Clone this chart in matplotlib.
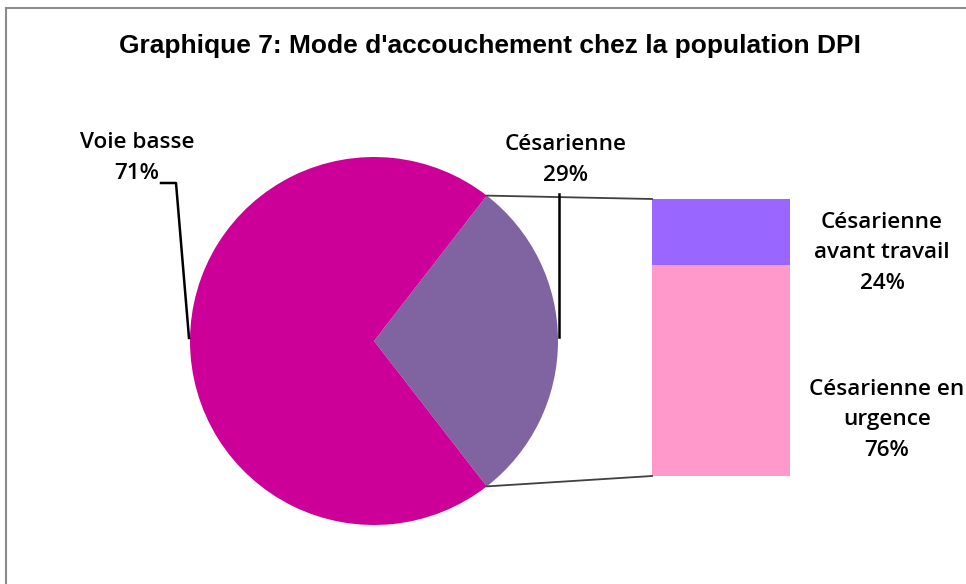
import numpy as np
import matplotlib
matplotlib.use('Agg')
from matplotlib import pyplot as plt
from matplotlib.lines import Line2D

# data
title = "Graphique 7: Mode d'accouchement chez la population DPI"
pie_labels = ['Césarienne', 'Voie basse']
pie_values = [29, 71]
pie_colors = ['#8064A2', '#CC0099']
bar_labels = ['Césarienne en\nurgence', 'Césarienne\navant travail']
bar_values = [76, 24]
bar_colors = ['#FF99CC', '#9966FF']

W, H = 966, 584
fig = plt.figure(figsize=(W / 100, H / 100), dpi=100)
ax = fig.add_axes([0, 0, 1, 1])


def py(y):
    # pixel row -> data y
    return H - y


# pie, split wedge centred on the right
cx, cy, r = 374, py(341), 184
half = pie_values[0] / sum(pie_values) * 360 / 2
ax.pie(pie_values, colors=pie_colors, startangle=-half, counterclock=True,
       center=(cx, cy), radius=r, frame=True,
       wedgeprops=dict(linewidth=0))
ax.set_xlim(0, W)
ax.set_ylim(0, H)
ax.set_aspect('auto')
ax.axis('off')

# stacked bar of the split wedge
bx, bw = 652, 138
btop, bbot = py(199), py(476)
total_h = btop - bbot
bottom = bbot
for v, c in zip(bar_values, bar_colors):
    h = total_h * v / sum(bar_values)
    ax.bar(bx + bw / 2, h, width=bw, bottom=bottom, color=c, linewidth=0)
    bottom += h

# connector lines
a = np.radians(half)
top_pt = (cx + r * np.cos(a), cy + r * np.sin(a))
bot_pt = (cx + r * np.cos(a), cy - r * np.sin(a))
ax.plot([top_pt[0], bx], [top_pt[1], btop], color='#404040', lw=1.3)
ax.plot([bot_pt[0], bx], [bot_pt[1], bbot], color='#404040', lw=1.3)

# leader lines
ax.plot([161, 176, 189], [py(183), py(183), py(338)], color='black', lw=1.8)
ax.plot([559, 559], [py(337), py(194)], color='black', lw=1.8)

lab = dict(family=['Open Sans', 'DejaVu Sans'], fontweight='semibold', fontsize=16.2,
           ha='center', va='center', color='black', linespacing=1.6)
ax.text(137, py(158), f'{pie_labels[1]}\n{pie_values[1]}%', **lab)
ax.text(566, py(160), f'{pie_labels[0]}\n{pie_values[0]}%', **lab)
ax.text(882, py(253), f'{bar_labels[1]}\n{bar_values[1]}%', **lab)
ax.text(887, py(420), f'{bar_labels[0]}\n{bar_values[0]}%', **lab)

ax.text(490, py(46), title, ha='center', va='center', fontsize=19,
        fontweight='bold', family=['Liberation Sans'])

# chart border (only top and left visible)
fig.add_artist(Line2D([5.5 / W, 5.5 / W], [0, 1 - 8 / H], color='#8c8c8c', lw=1.5))
fig.add_artist(Line2D([5.5 / W, 1], [1 - 8 / H, 1 - 8 / H], color='#8c8c8c', lw=1.5))

fig.savefig('out.png', dpi=100, facecolor='white')
